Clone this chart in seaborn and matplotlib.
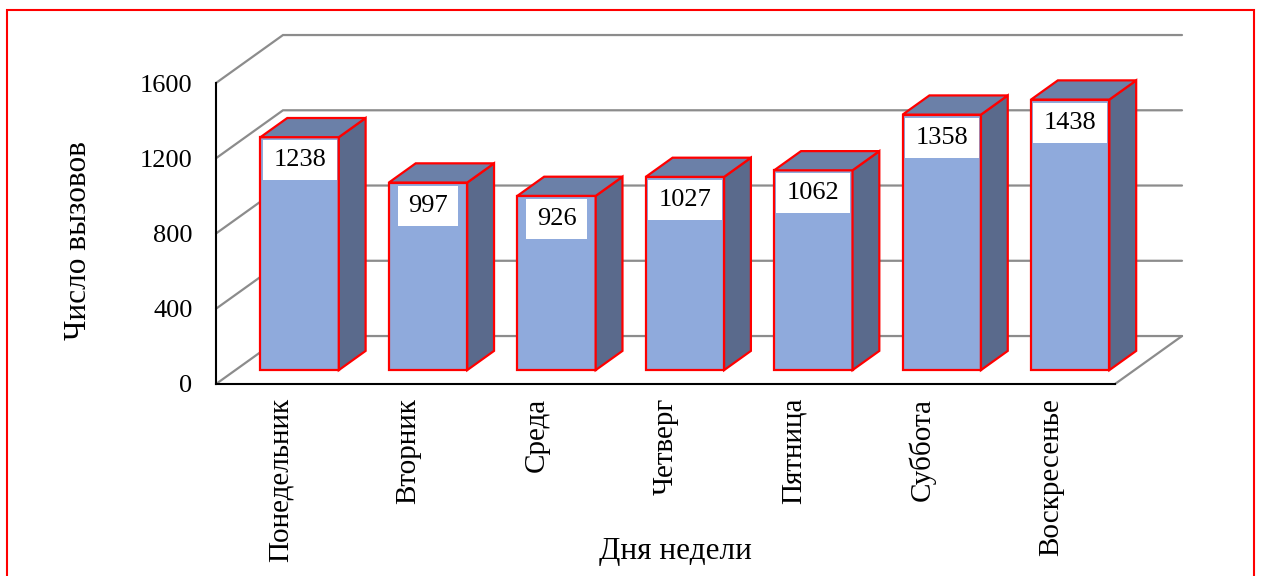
import matplotlib
matplotlib.use("Agg")
import matplotlib.pyplot as plt
import matplotlib.transforms as mtransforms
from matplotlib.patches import Polygon, Rectangle
import pandas as pd
import seaborn as sns

# Data: calls per day of the week
days = ["Понедельник", "Вторник", "Среда", "Четверг", "Пятница", "Суббота", "Воскресенье"]
calls = [1238, 997, 926, 1027, 1062, 1358, 1438]
y_ticks = [0, 400, 800, 1200, 1600]
x_label = "Дня недели"
y_label = "Число вызовов"

sns.set_style("white")
plt.rcParams["font.family"] = ["Liberation Serif", "DejaVu Serif"]
plt.rcParams["text.color"] = "black"
plt.rcParams["axes.labelcolor"] = "black"
plt.rcParams["xtick.color"] = "black"
plt.rcParams["ytick.color"] = "black"

W, H = 1262, 576
fig = plt.figure(figsize=(W / 100, H / 100), dpi=100)
ax = fig.add_axes([216 / W, 192 / H, 899 / W, 301 / H])

df = pd.DataFrame({"day": days, "calls": calls})

# pseudo-3D depth direction (data units per unit of depth)
DX, DY = 0.5217, 255.0
D_FRONT, D_BACK = 0.29, 0.69
BAR_W = 0.61

front_col = "#8FAADC"
top_col = "#6B80A8"
side_col = "#5A6A8C"
edge_col = "#FF0000"
grid_col = "#8C8C8C"

sns.barplot(data=df, x="day", y="calls", width=BAR_W, color=front_col,
            saturation=1, errorbar=None, edgecolor=edge_col, linewidth=1.6,
            ax=ax, zorder=3)

ax.set_xlim(-0.5, len(days) - 0.5)
ax.set_ylim(0, 1600)

# back wall + side wall gridlines and floor
x_left, x_right = -0.5, len(days) - 0.5
for v in y_ticks:
    ax.plot([x_left, x_left + DX, x_right + DX], [v, v + DY, v + DY],
            color=grid_col, lw=1.6, clip_on=False, zorder=1, solid_joinstyle="miter")
ax.plot([x_right, x_right + DX], [0, DY], color=grid_col, lw=1.6, clip_on=False, zorder=1)

# move the bar fronts into depth and add top and side faces
fx, fy = DX * D_FRONT, DY * D_FRONT
bx, by = DX * D_BACK, DY * D_BACK
shift = mtransforms.Affine2D().translate(fx, fy) + ax.transData
bars = list(ax.patches)
for p in bars:
    p.set_transform(shift)
    p.set_clip_on(False)
    x0 = p.get_x()
    x1 = x0 + p.get_width()
    h = p.get_height()
    top = Polygon([(x0 + fx, h + fy), (x1 + fx, h + fy), (x1 + bx, h + by), (x0 + bx, h + by)],
                  closed=True, facecolor=top_col, edgecolor=edge_col, lw=1.6,
                  clip_on=False, zorder=3, joinstyle="miter")
    side = Polygon([(x1 + fx, fy), (x1 + fx, h + fy), (x1 + bx, h + by), (x1 + bx, by)],
                   closed=True, facecolor=side_col, edgecolor=edge_col, lw=1.6,
                   clip_on=False, zorder=3, joinstyle="miter")
    ax.add_patch(side)
    ax.add_patch(top)

# axes styling
for s in ["top", "right"]:
    ax.spines[s].set_visible(False)
for s in ["left", "bottom"]:
    ax.spines[s].set_color("black")
    ax.spines[s].set_linewidth(1.5)
    ax.spines[s].set_zorder(4)

ax.set_yticks(y_ticks)
ax.set_yticklabels([str(v) for v in y_ticks], fontsize=19)
ax.tick_params(axis="y", direction="out", length=6, width=1.3, pad=11, colors="black")
ax.set_xticks(range(len(days)))
ax.set_xticklabels(days, rotation=90, fontsize=21, va="top")
ax.set_xticks([i - 0.5 for i in range(len(days) + 1)], minor=True)
ax.tick_params(axis="x", which="major", length=0, pad=10, colors="black")
ax.tick_params(axis="x", which="minor", direction="out", length=6, width=1.3, colors="black")
ax.grid(False)

ax.set_xlabel(x_label, fontsize=22.5)
ax.set_ylabel(y_label, fontsize=22.5)
ax.xaxis.set_label_coords((675 - 216) / 899, (384 - 552) / 301)
ax.xaxis.label.set_va("center")
ax.yaxis.set_label_coords((78 - 216) / 899, (384 - 240) / 301)
ax.yaxis.label.set_va("center")

# value labels in white boxes near the top of each bar
label_tr = mtransforms.offset_copy(ax.transData, fig=fig, x=0, y=-23, units="dots")
texts = []
for p, v in zip(bars, calls):
    cx = p.get_x() + p.get_width() / 2 + fx
    t = ax.text(cx, v + fy, f"{v}", transform=label_tr, ha="center", va="center",
                fontsize=19, color="black", zorder=6, clip_on=False)
    texts.append(t)

fig.canvas.draw()
renderer = fig.canvas.get_renderer()
inv = ax.transData.inverted()
for t in texts:
    bb = t.get_window_extent(renderer)
    cxp = (bb.x0 + bb.x1) / 2
    cyp = (bb.y0 + bb.y1) / 2
    wpx = bb.width + 21
    hpx = 40
    (dx0, dy0) = inv.transform((cxp - wpx / 2, cyp - hpx / 2))
    (dx1, dy1) = inv.transform((cxp + wpx / 2, cyp + hpx / 2))
    ax.add_patch(Rectangle((dx0, dy0), dx1 - dx0, dy1 - dy0, facecolor="white",
                           edgecolor="none", zorder=5, clip_on=False))

# frame around the chart area
fig.patches.append(Rectangle((7 / W, -0.05), (1254 - 7) / W, 1 - 10 / H + 0.05,
                             transform=fig.transFigure, fill=False,
                             edgecolor=edge_col, lw=1.5))

fig.savefig("out.png", dpi=100)
